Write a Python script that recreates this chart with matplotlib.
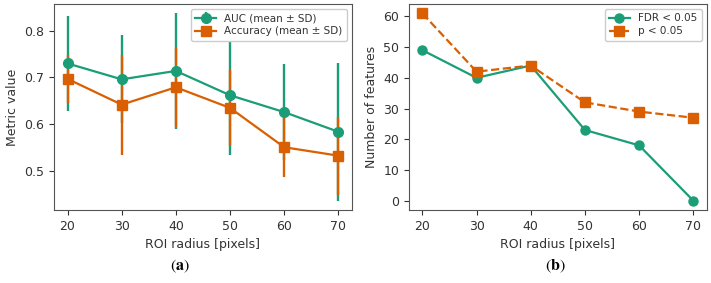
import matplotlib
matplotlib.use("Agg")
import matplotlib.pyplot as plt

radius = [20, 30, 40, 50, 60, 70]
auc_mean = [0.730, 0.696, 0.714, 0.662, 0.626, 0.584]
auc_sd = [0.102, 0.094, 0.123, 0.128, 0.103, 0.147]
acc_mean = [0.697, 0.642, 0.679, 0.635, 0.551, 0.533]
acc_sd = [0.052, 0.107, 0.084, 0.081, 0.064, 0.083]
fdr_count = [49, 40, 44, 23, 18, 0]
p_count = [61, 42, 44, 32, 29, 27]

GREEN = "#1b9e77"
ORANGE = "#d95f02"
TXT = "#333333"

plt.rcParams.update({
    "font.family": "DejaVu Sans",
    "font.size": 9,
    "text.color": TXT,
    "axes.labelcolor": TXT,
    "xtick.color": TXT,
    "ytick.color": TXT,
    "axes.edgecolor": "#555555",
    "mathtext.fontset": "stix",
})

fig = plt.figure(figsize=(7.11, 2.83), dpi=100)
ax1 = fig.add_axes([0.0759, 0.258, 0.4191, 0.728])
ax2 = fig.add_axes([0.575, 0.258, 0.4191, 0.728])

ax1.errorbar(radius, auc_mean, yerr=auc_sd, color=GREEN, marker="o", ms=7,
             lw=1.6, elinewidth=1.7, capsize=0, label="AUC (mean ± SD)")
ax1.errorbar(radius, acc_mean, yerr=acc_sd, color=ORANGE, marker="s", ms=7,
             lw=1.6, elinewidth=1.7, capsize=0, label="Accuracy (mean ± SD)")
ax1.set_xticks(radius)
ax1.set_yticks([0.5, 0.6, 0.7, 0.8])
ax1.set_xlabel("ROI radius [pixels]")
ax1.set_ylabel("Metric value")
ax1.legend(loc="upper right", fontsize=7.5, framealpha=1, borderpad=0.4,
           handlelength=2.0, labelspacing=0.3)

ax2.plot(radius, fdr_count, color=GREEN, marker="o", ms=6.5, lw=1.6, label="FDR < 0.05")
ax2.plot(radius, p_count, color=ORANGE, marker="s", ms=6.5, lw=1.6, ls="--", label="p < 0.05")
ax2.set_xticks(radius)
ax2.set_yticks([0, 10, 20, 30, 40, 50, 60])
ax2.set_xlabel("ROI radius [pixels]")
ax2.set_ylabel("Number of features")
ax2.legend(loc="upper right", fontsize=7.5, framealpha=1, borderpad=0.4,
           handlelength=2.0, labelspacing=0.3)

for ax in (ax1, ax2):
    ax.tick_params(labelsize=9)

fig.text(0.253, 0.06, r"$(\mathbf{a})$", ha="center", va="center",
         fontsize=11.5, color="black")
fig.text(0.781, 0.06, r"$(\mathbf{b})$", ha="center", va="center",
         fontsize=11.5, color="black")

fig.savefig("out.png", dpi=100)
